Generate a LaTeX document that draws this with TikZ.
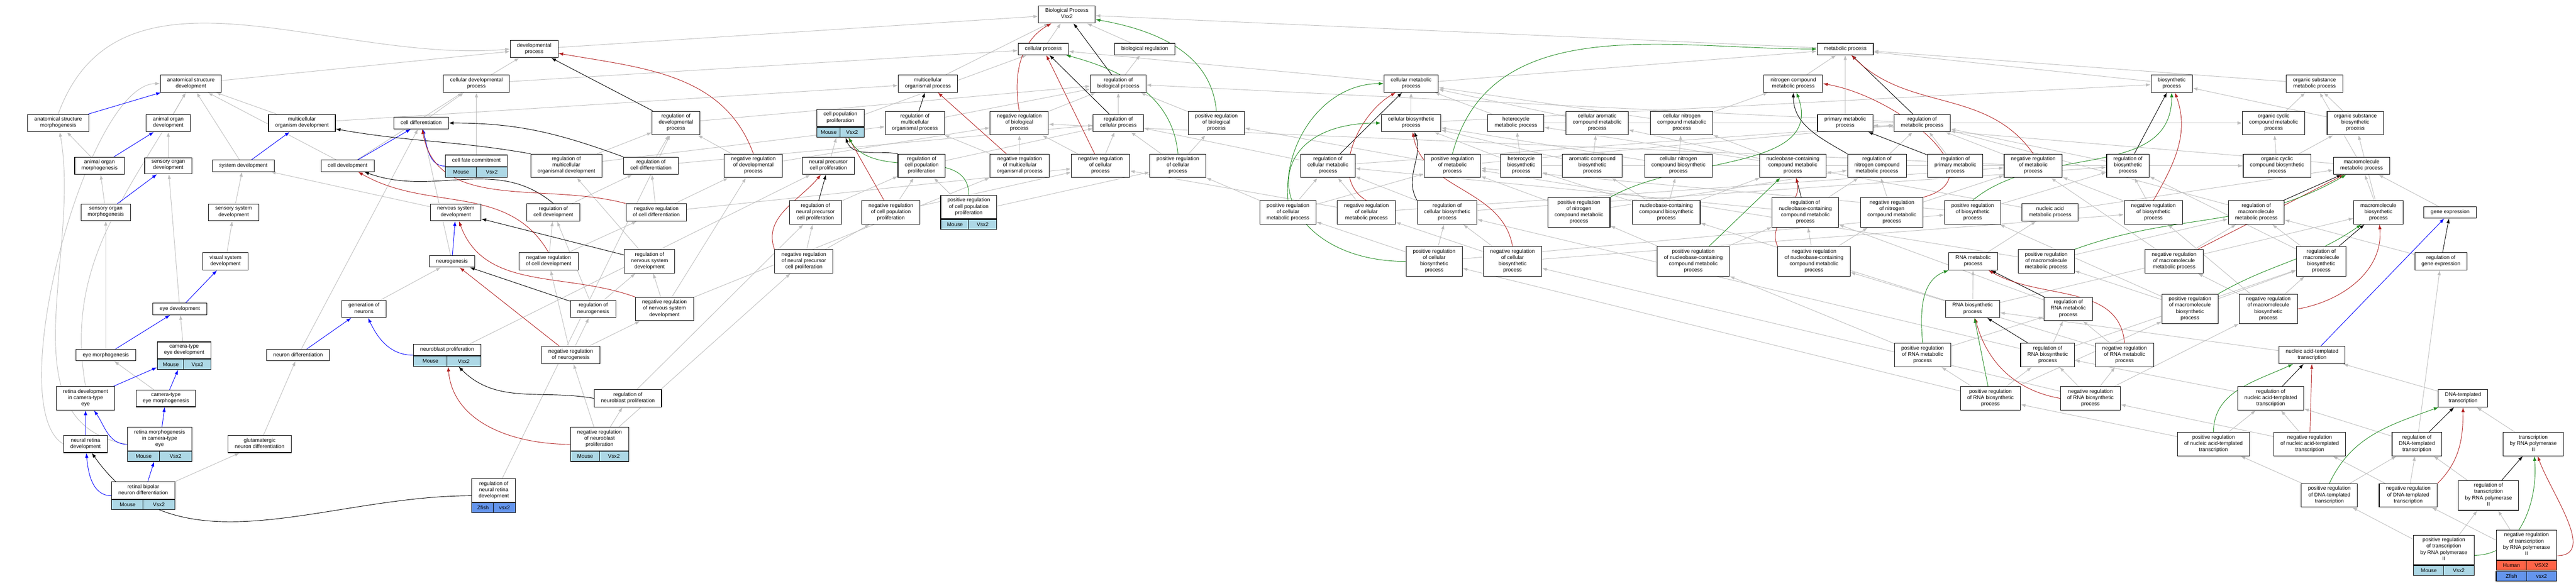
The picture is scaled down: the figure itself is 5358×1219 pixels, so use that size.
\documentclass[tikz,border=0pt]{standalone}
\usepackage{fontspec}
\setmainfont{Liberation Sans}
\usetikzlibrary{arrows.meta,fit,calc}

\definecolor{isagrey}{RGB}{190,190,190}
\definecolor{negred}{RGB}{178,34,34}
\definecolor{posgreen}{RGB}{34,139,34}
\definecolor{mouseblue}{RGB}{173,216,230}
\definecolor{fishblue}{RGB}{100,149,237}
\definecolor{humanred}{RGB}{255,99,71}

\pgfdeclarelayer{bg}
\pgfsetlayers{bg,main}

\tikzset{
  term/.style={draw, fill=white, line width=1.2pt, align=center, inner xsep=14pt, inner ysep=5.5pt,
    font=\fontsize{11}{13}\selectfont, execute at begin node=\strut, execute at end node=\strut},
  gene/.style={draw, line width=1.2pt, inner sep=0pt, minimum height=21pt, font=\fontsize{11}{13}\selectfont},
  link/.style={line width=1pt, -{Latex[length=10pt,width=7pt]}},
  isa/.style={link, isagrey},
  partof/.style={link, blue},
  regs/.style={link, black},
  negregs/.style={link, negred},
  posregs/.style={link, posgreen}
}

% one row of gene cells under a term
\newcommand{\generow}[5]{%
  \path let \p1=($(#2.east)-(#2.west)$) in
    node[gene, fill=#3, minimum width=0.5*\x1, anchor=north west] (#1-l) at (#2.south west) {#4}
    node[gene, fill=#3, minimum width=0.5*\x1, anchor=north east] (#1-r) at (#2.south east) {#5};}

% term with its gene row
\newcommand{\gorec}[6]{%
  \node[term] (#1-t) at (#2) {#3};
  \generow{#1-g}{#1-t}{#4}{#5}{#6}
  \node[fit=(#1-t)(#1-g-l)(#1-g-r), inner sep=0pt] (#1) {};}

\begin{document}
\begin{tikzpicture}[x=1pt,y=1pt]
  \useasboundingbox (0,0) rectangle (5358,-1219);

  % draw top terms
  \node[term] (bp) at (2219,-30) {Biological Process\\Vsx2};
  \node[term] (dp) at (1111,-102) {developmental\\process};
  \node[term] (cp) at (2170,-102) {cellular process};
  \node[term] (breg) at (2381,-102) {biological regulation};
  \node[term] (mp) at (3838,-102) {metabolic process};

  \node[term] (asd) at (397,-174) {anatomical structure\\development};
  \node[term] (cdp) at (991,-174) {cellular developmental\\process};
  \node[term] (mop) at (1930,-174) {multicellular\\organismal process};
  \node[term] (rbp) at (2326,-174) {regulation of\\biological process};
  \node[term] (cmp) at (2935,-174) {cellular metabolic\\process};
  \node[term] (ncmp) at (3730,-174) {nitrogen compound\\metabolic process};
  \node[term] (bsp) at (4517,-174) {biosynthetic\\process};
  \node[term] (osmp) at (4814,-174) {organic substance\\metabolic process};

  \node[term] (asm) at (121,-256) {anatomical structure\\morphogenesis};
  \node[term] (aod) at (350,-256) {animal organ\\development};
  \node[term] (mod) at (628,-256) {multicellular\\organism development};
  \node[term] (cdiff) at (876,-256) {cell differentiation};
  \node[term] (rdp) at (1406,-256) {regulation of\\developmental\\process};
  \gorec{cpp}{1748,-245.5}{cell population\\proliferation}{mouseblue}{Mouse}{Vsx2}
  \node[term] (rmop) at (1903,-256) {regulation of\\multicellular\\organismal process};
  \node[term] (nrbp) at (2120,-256) {negative regulation\\of biological\\process};
  \node[term] (rcp) at (2326,-256) {regulation of\\cellular process};
  \node[term] (prbp) at (2530,-256) {positive regulation\\of biological\\process};
  \node[term] (cbp) at (2935,-256) {cellular biosynthetic\\process};
  \node[term] (hmp) at (3153,-256) {heterocycle\\metabolic process};
  \node[term] (cacmp) at (3322,-256) {cellular aromatic\\compound metabolic\\process};
  \node[term] (cncmp) at (3498,-256) {cellular nitrogen\\compound metabolic\\process};
  \node[term] (pmp) at (3838,-256) {primary metabolic\\process};
  \node[term] (rmp) at (3998,-256) {regulation of\\metabolic process};
  \node[term] (occmp) at (4729,-256) {organic cyclic\\compound metabolic\\process};
  \node[term] (osbp) at (4899,-256) {organic substance\\biosynthetic\\process};

  \node[term] (aom) at (207,-345) {animal organ\\morphogenesis};
  \node[term] (sod) at (350,-345) {sensory organ\\development};
  \node[term] (sd) at (506,-345) {system development};
  \node[term] (cdev) at (723,-345) {cell development};
  \gorec{cfc}{991,-334.5}{cell fate commitment}{mouseblue}{Mouse}{Vsx2}
  \node[term] (rmod) at (1178,-345) {regulation of\\multicellular\\organismal development};
  \node[term] (rcd) at (1354,-345) {regulation of\\cell differentiation};
  \node[term] (nrdp) at (1567,-345) {negative regulation\\of developmental\\process};
  \node[term] (npcp) at (1723,-345) {neural precursor\\cell proliferation};
  \node[term] (rcpp) at (1917,-345) {regulation of\\cell population\\proliferation};
  \node[term] (nrmop) at (2121,-345) {negative regulation\\of multicellular\\organismal process};
  \node[term] (nrcp) at (2289,-345) {negative regulation\\of cellular\\process};
  \node[term] (prcp) at (2450,-345) {positive regulation\\of cellular\\process};
  \node[term] (rcmp) at (2762,-345) {regulation of\\cellular metabolic\\process};
  \node[term] (prmp) at (3021,-345) {positive regulation\\of metabolic\\process};
  \node[term] (hbp) at (3164,-345) {heterocycle\\biosynthetic\\process};
  \node[term] (acbp) at (3312,-345) {aromatic compound\\biosynthetic\\process};
  \node[term] (cncbp) at (3491,-345) {cellular nitrogen\\compound biosynthetic\\process};
  \node[term] (nccmp) at (3729,-345) {nucleobase-containing\\compound metabolic\\process};
  \node[term] (rncmp) at (3904,-345) {regulation of\\nitrogen compound\\metabolic process};
  \node[term] (rpmp) at (4067,-345) {regulation of\\primary metabolic\\process};
  \node[term] (nrmp) at (4229,-345) {negative regulation\\of metabolic\\process};
  \node[term] (rbsp) at (4426,-345) {regulation of\\biosynthetic\\process};
  \node[term] (occbp) at (4736,-345) {organic cyclic\\compound biosynthetic\\process};
  \node[term] (mmp) at (4912,-345) {macromolecule\\metabolic process};

  \node[term] (som) at (220,-442) {sensory organ\\morphogenesis};
  \node[term] (ssd) at (486,-442) {sensory system\\development};
  \node[term] (nsd) at (948,-442) {nervous system\\development};
  \node[term] (rcdev) at (1151,-442) {regulation of\\cell development};
  \node[term] (nrcd) at (1365,-442) {negative regulation\\of cell differentiation};
  \node[term] (rnpcp) at (1696,-442) {regulation of\\neural precursor\\cell proliferation};
  \node[term] (nrcpp) at (1853,-442) {negative regulation\\of cell population\\proliferation};
  \gorec{prcpp}{2015,-431}{positive regulation\\of cell population\\proliferation}{mouseblue}{Mouse}{Vsx2}
  \node[term] (prcmp) at (2679,-442) {positive regulation\\of cellular\\metabolic process};
  \node[term] (nrcmp) at (2842,-442) {negative regulation\\of cellular\\metabolic process};
  \node[term] (rcbp) at (3010,-442) {regulation of\\cellular biosynthetic\\process};
  \node[term] (prncmp) at (3284,-442) {positive regulation\\of nitrogen\\compound metabolic\\process};
  \node[term] (nccbp) at (3466,-442) {nucleobase-containing\\compound biosynthetic\\process};
  \node[term] (rnccmp) at (3755,-442) {regulation of\\nucleobase-containing\\compound metabolic\\process};
  \node[term] (nrncmp) at (3935,-442) {negative regulation\\of nitrogen\\compound metabolic\\process};
  \node[term] (prbsp) at (4103,-442) {positive regulation\\of biosynthetic\\process};
  \node[term] (namp) at (4264,-442) {nucleic acid\\metabolic process};
  \node[term] (nrbsp) at (4479,-442) {negative regulation\\of biosynthetic\\process};
  \node[term] (rmmp) at (4693,-442) {regulation of\\macromolecule\\metabolic process};
  \node[term] (mbp) at (4947,-442) {macromolecule\\biosynthetic\\process};
  \node[term] (ge) at (5096,-442) {gene expression};

  \node[term] (vsd) at (469,-544) {visual system\\development};
  \node[term] (ng) at (940,-544) {neurogenesis};
  \node[term] (nrcdev) at (1141,-544) {negative regulation\\of cell development};
  \node[term] (rnsd) at (1351,-544) {regulation of\\nervous system\\development};
  \node[term] (nrnpcp) at (1672,-544) {negative regulation\\of neural precursor\\cell proliferation};
  \node[term] (prcbp) at (2983,-544) {positive regulation\\of cellular\\biosynthetic\\process};
  \node[term] (nrcbp) at (3146,-544) {negative regulation\\of cellular\\biosynthetic\\process};
  \node[term] (prnccmp) at (3522,-544) {positive regulation\\of nucleobase-containing\\compound metabolic\\process};
  \node[term] (nrnccmp) at (3773,-544) {negative regulation\\of nucleobase-containing\\compound metabolic\\process};
  \node[term] (rnamp) at (4104,-544) {RNA metabolic\\process};
  \node[term] (prmmp) at (4256,-544) {positive regulation\\of macromolecule\\metabolic process};
  \node[term] (nrmmp) at (4522,-544) {negative regulation\\of macromolecule\\metabolic process};
  \node[term] (rmbp) at (4828,-544) {regulation of\\macromolecule\\biosynthetic\\process};
  \node[term] (rge) at (5077,-544) {regulation of\\gene expression};

  \node[term] (ed) at (374,-643) {eye development};
  \node[term] (gon) at (757,-643) {generation of\\neurons};
  \node[term] (rng) at (1234,-643) {regulation of\\neurogenesis};
  \node[term] (nrnsd) at (1382,-643) {negative regulation\\of nervous system\\development};
  \node[term] (rnabp) at (4103,-643) {RNA biosynthetic\\process};
  \node[term] (rrnamp) at (4302,-643) {regulation of\\RNA metabolic\\process};
  \node[term] (prmbp) at (4555,-643) {positive regulation\\of macromolecule\\biosynthetic\\process};
  \node[term] (nrmbp) at (4718,-643) {negative regulation\\of macromolecule\\biosynthetic\\process};

  \node[term] (em) at (220,-739) {eye morphogenesis};
  \gorec{ced}{383,-729}{camera-type\\eye development}{mouseblue}{Mouse}{Vsx2}
  \node[term] (nd) at (620,-739) {neuron differentiation};
  \gorec{nbp}{930,-728}{neuroblast proliferation}{mouseblue}{Mouse}{Vsx2}
  \node[term] (nrng) at (1187,-739) {negative regulation\\of neurogenesis};
  \node[term] (prrnamp) at (3999,-739) {positive regulation\\of RNA metabolic\\process};
  \node[term] (rrnabp) at (4259,-739) {regulation of\\RNA biosynthetic\\process};
  \node[term] (nrrnamp) at (4419,-739) {negative regulation\\of RNA metabolic\\process};
  \node[term] (natt) at (4809,-739) {nucleic acid-templated\\transcription};

  \node[term] (rdce) at (178,-829) {retina development\\in camera-type\\eye};
  \node[term] (cem) at (345,-829) {camera-type\\eye morphogenesis};
  \node[term] (rnbp) at (1306,-829) {regulation of\\neuroblast proliferation};
  \node[term] (prrnabp) at (4140,-829) {positive regulation\\of RNA biosynthetic\\process};
  \node[term] (nrrnabp) at (4348,-829) {negative regulation\\of RNA biosynthetic\\process};
  \node[term] (rnatt) at (4723,-829) {regulation of\\nucleic acid-templated\\transcription};
  \node[term] (dtt) at (5123,-829) {DNA-templated\\transcription};

  \node[term] (nrd) at (178,-924) {neural retina\\development};
  \gorec{rmce}{332,-913.5}{retina morphogenesis\\in camera-type\\eye}{mouseblue}{Mouse}{Vsx2}
  \node[term] (gnd) at (540,-924) {glutamatergic\\neuron differentiation};
  \gorec{nrnbp}{1247,-913.5}{negative regulation\\of neuroblast\\proliferation}{mouseblue}{Mouse}{Vsx2}
  \node[term] (prnatt) at (4604,-924) {positive regulation\\of nucleic acid-templated\\transcription};
  \node[term] (nrnatt) at (4804,-924) {negative regulation\\of nucleic acid-templated\\transcription};
  \node[term] (rdtt) at (5027,-924) {regulation of\\DNA-templated\\transcription};
  \node[term] (tpol) at (5269,-924) {transcription\\by RNA polymerase\\II};

  \gorec{rbnd}{298,-1020.5}{retinal bipolar\\neuron differentiation}{mouseblue}{Mouse}{Vsx2}
  \gorec{rnrd}{1027,-1020.5}{regulation of\\neural retina\\development}{fishblue}{Zfish}{vsx2}
  \node[term] (prdtt) at (4845,-1031) {positive regulation\\of DNA-templated\\transcription};
  \node[term] (nrdtt) at (5009,-1031) {negative regulation\\of DNA-templated\\transcription};
  \node[term] (rtpol) at (5176,-1031) {regulation of\\transcription\\by RNA polymerase\\II};

  \gorec{prtpol}{5083,-1144.5}{positive regulation\\of transcription\\by RNA polymerase\\II}{mouseblue}{Mouse}{Vsx2}
  \node[term] (nrtpol-t) at (5255,-1134) {negative regulation\\of transcription\\by RNA polymerase\\II};
  \generow{nrtpol-h}{nrtpol-t}{humanred}{Human}{VSX2}
  \node[fit=(nrtpol-h-l)(nrtpol-h-r), inner sep=0pt] (nrtpol-hrow) {};
  \generow{nrtpol-z}{nrtpol-hrow}{fishblue}{Zfish}{vsx2}
  \node[fit=(nrtpol-t)(nrtpol-z-l)(nrtpol-z-r), inner sep=0pt] (nrtpol) {};

  \begin{pgfonlayer}{bg}
    \fill[white] (0,0) rectangle (5358,-1219);

    % is_a links
    \foreach \src/\dst in {asd/dp, mod/asd, mod/mop, aod/asd, sd/asd, cdev/asd, cdev/cdp,
        cdiff/cdp, cfc/cdp, cdp/dp, cdp/cp, dp/bp, aom/asm, sod/aod, som/aom, ssd/sd, vsd/ssd,
        ed/sod, em/som, ced/ed, cem/em, nd/cdiff, gon/ng, ng/cdiff,
        nbp/npcp, nsd/sd, gnd/nd, rbnd/gnd}
      \draw[isa] (\src) -- (\dst);
    \draw[isa] (asm.north) to[out=70,in=185] (dp.west);
    \draw[isa] (rdce.north) to[out=100,in=-120] (asd);
    \draw[isa] (nrd.west) to[out=150,in=180,looseness=0.5] (asd.west);
    \draw[isa] (rmce.west) to[out=170,in=-80] (asm);
    \foreach \src/\dst in {rdp/rbp, rmod/rdp, rmod/rmop, rcd/rdp, rcd/rcp, nrdp/rdp, nrdp/nrbp,
        rcdev/rcd, nrcd/rcd, nrcd/nrdp, nrcd/nrcp, nrcdev/rcdev, nrcdev/nrcd, rnsd/rmod, nrnsd/rnsd,
        nrnsd/nrdp, nrnsd/nrmop, rng/rnsd, rng/rcdev, nrng/rng, nrng/nrnsd, nrng/nrcdev, rnbp/rnpcp,
        nrnbp/nrng, nrnbp/rnbp, nrnbp/nrnpcp, rnpcp/rcpp, nrnpcp/rnpcp, nrnpcp/nrcpp, npcp/cpp,
        rnrd/rdp, cpp/cp, rcpp/rcp, nrcpp/rcpp, nrcpp/nrcp, prcpp/rcpp, prcpp/prcp, rmop/rbp,
        nrmop/rmop, nrmop/nrbp, nrbp/rbp, nrcp/nrbp, nrcp/rcp, prcp/rcp, prcp/prbp, prbp/rbp,
        rcp/rbp, rbp/breg, breg/bp, cp/bp, mop/bp, mp/bp, cmp/cp, rmp/rbp, prmp/prbp, rcmp/rcp,
        nrcmp/nrcp, prcmp/prcp, nrmp/nrbp}
      \draw[isa] (\src) -- (\dst);
    \foreach \src/\dst in {cmp/mp, cbp/cmp, cbp/bsp, hmp/cmp, cacmp/cmp, cncmp/cmp, cncmp/ncmp,
        hmp/occmp, cacmp/occmp, hbp/hmp, hbp/cbp, acbp/cacmp, acbp/cbp, cncbp/cncmp, cncbp/cbp,
        rcmp/rmp, prmp/rmp, prcmp/rcmp, prcmp/prmp, nrcmp/rcmp, nrcmp/nrmp, rcbp/rcmp, rcbp/rbsp,
        prcbp/rcbp, prcbp/prcmp, prcbp/prbsp, nrcbp/rcbp, nrcbp/nrcmp, nrcbp/nrbsp, prncmp/prmp,
        prncmp/rncmp, nccbp/nccmp, nccbp/cncbp, nccbp/acbp, nccbp/hbp, rnccmp/rncmp, rnccmp/rcmp,
        nrncmp/rncmp, nrncmp/nrmp, rncmp/rmp, rpmp/rmp, nrmp/rmp, pmp/mp, ncmp/mp, nccmp/cncmp,
        nccmp/hmp, nccmp/cacmp, namp/nccmp, namp/mmp, rnamp/namp, prbsp/rbsp, prbsp/prmp,
        nrbsp/rbsp, nrbsp/nrmp, rbsp/rmp, osmp/mp, bsp/mp, occmp/osmp, osbp/osmp, osbp/bsp,
        occbp/occmp, occbp/osbp, acbp/occbp, hbp/occbp, mmp/osmp, mmp/pmp, mbp/mmp, mbp/osbp,
        ge/mmp, rmmp/rmp, rmbp/rmmp, rmbp/rbsp, prmmp/rmmp, prmmp/prmp, nrmmp/rmmp, nrmmp/nrmp,
        prmbp/rmbp, prmbp/prmmp, prmbp/prbsp, nrmbp/rmbp, nrmbp/nrmmp, nrmbp/nrbsp, rge/rmmp,
        prnccmp/rnccmp, prnccmp/prncmp, nrnccmp/rnccmp, nrnccmp/nrncmp}
      \draw[isa] (\src) -- (\dst);
    \foreach \src/\dst in {rnabp/rnamp, rnabp/nccbp, rnabp/mbp, rrnamp/rnccmp, prrnamp/rrnamp,
        prrnamp/prnccmp, rrnabp/rrnamp, rrnabp/rmbp, rrnabp/rcbp, nrrnamp/rrnamp,
        nrrnamp/nrnccmp, prrnabp/prrnamp, prrnabp/rrnabp, prrnabp/prcbp, prrnabp/prmbp,
        nrrnabp/rrnabp, nrrnabp/nrrnamp, nrrnabp/nrcbp, nrrnabp/nrmbp, natt/rnabp, rnatt/rrnabp,
        prnatt/rnatt, prnatt/prrnabp, nrnatt/rnatt, nrnatt/nrrnabp, dtt/natt, rdtt/rnatt, rdtt/rge,
        tpol/dtt, prdtt/prnatt, prdtt/rdtt, nrdtt/nrnatt, nrdtt/rdtt, rtpol/rdtt, prtpol/prdtt,
        prtpol/rtpol, nrtpol/nrdtt, nrtpol/rtpol}
      \draw[isa] (\src) -- (\dst);

    % part_of links
    \foreach \src/\dst in {asm/asd, aom/aod, som/sod, sd/mod, cdev/cdiff, ed/vsd, em/ed, rdce/ced,
        rmce/cem, cem/ced, nrd/rdce, rbnd/rmce, nd/gon, ng/nsd, natt/ge}
      \draw[partof] (\src) -- (\dst);
    \draw[partof] (cfc.west) to[out=180,in=-75] (cdiff);
    \draw[partof] (nbp.west) to[out=180,in=-65] (gon);
    \draw[partof] (rbnd.west) to[out=180,in=-85] (nrd);
    \draw[partof] (rmce.west) to[out=180,in=-55] (rdce);

    % regulates links
    \foreach \src/\dst in {rdp/dp, rnsd/nsd, rng/ng, rnpcp/npcp, rmop/mop, rbp/bp, rcp/cp, rcmp/cmp,
        rmp/mp, rpmp/pmp, rnccmp/nccmp, rbsp/bsp, rmmp/mmp, rmbp/mbp, rge/ge, rrnamp/rnamp,
        rrnabp/rnabp, rnatt/natt, rdtt/dtt, rtpol/tpol}
      \draw[regs] (\src) -- (\dst);
    \draw[regs] (rcd.north west) to[out=160,in=0] (cdiff.east);
    \draw[regs] (rmod.north west) to[out=170,in=-10] (mod);
    \draw[regs] (rcdev.north) to[out=140,in=-20] (cdev);
    \draw[regs] (rnbp.west) to[out=170,in=-45] (nbp);
    \draw[regs] (rcpp.north west) to[out=170,in=-70] (cpp);
    \draw[regs] (rnrd.west) to[out=180,in=-55] (nrd);
    \draw[regs] (rcbp.north west) to[out=120,in=-70] (cbp);
    \draw[regs] (rncmp.north west) to[out=150,in=-90] (ncmp);

    % negatively regulates links
    \foreach \src/\dst in {nrng/ng, nrcpp/cpp, nrmop/mop, nrcp/cp, nrmmp/mmp, nrnatt/natt}
      \draw[negregs] (\src) -- (\dst);
    \draw[negregs] (nrdp.north) to[out=110,in=-10] (dp);
    \draw[negregs] (nrcd.north west) to[out=165,in=-80] (cdiff);
    \draw[negregs] (nrcdev.north) to[out=120,in=-30] (cdev);
    \draw[negregs] (nrnsd.north west) to[out=160,in=-70] (nsd);
    \draw[negregs] (nrnbp.west) to[out=180,in=-85] (nbp);
    \draw[negregs] (nrnpcp.north west) to[out=110,in=-130] (npcp);
    \draw[negregs] (nrbp.north) to[out=100,in=-150] (bp);
    \draw[negregs] (nrcmp.north) to[out=150,in=-150] (cmp);
    \draw[negregs] (nrcbp.north) to[out=100,in=-80] (cbp);
    \draw[negregs] (nrmp.north) to[out=125,in=-45] (mp);
    \draw[negregs] (nrncmp.north east) to[out=15,in=-10,looseness=1.3] (ncmp.east);
    \draw[negregs] (nrnccmp.north west) to[out=115,in=-75] (nccmp);
    \draw[negregs] (nrbsp.north) to[out=60,in=-70] (bsp);
    \draw[negregs] (nrmbp.east) to[out=10,in=-85] (mbp);
    \draw[negregs] (nrrnamp.north) to[out=95,in=-30] (rnamp);
    \draw[negregs] (nrrnabp.west) to[out=170,in=-75] (rnabp);
    \draw[negregs] (nrdtt.north east) to[out=45,in=-90] (dtt);
    \draw[negregs] (nrtpol.east) to[out=0,in=-70] (tpol);

    % positively regulates links
    \foreach \src/\dst in {prnccmp/nccmp, prrnabp/rnabp}
      \draw[posregs] (\src) -- (\dst);
    \draw[posregs] (prcpp.north) to[out=90,in=-60] (cpp);
    \draw[posregs] (prbp.north) to[out=95,in=-10] (bp);
    \draw[posregs] (prcp.north) to[out=95,in=-15] (cp);
    \draw[posregs] (prcmp.north) to[out=95,in=180] (cmp.west);
    \draw[posregs] (prcbp.west) to[out=180,in=180,looseness=2.5] (cbp.west);
    \draw[posregs] (prmp.north) to[out=75,in=180] (mp.west);
    \draw[posregs] (prncmp.north east) to[out=30,in=-70] (ncmp);
    \draw[posregs] (prbsp.north) to[out=40,in=-90] (bsp);
    \draw[posregs] (prmmp.north east) to[out=20,in=-150] (mmp);
    \draw[posregs] (prmbp.north east) to[out=30,in=-145] (mbp);
    \draw[posregs] (prrnamp.north) to[out=95,in=-160] (rnamp);
    \draw[posregs] (prnatt.north) to[out=90,in=-155] (natt);
    \draw[posregs] (prdtt.north) to[out=65,in=-160] (dtt);
    \draw[posregs] (prtpol.east) to[out=0,in=-85] (tpol);
  \end{pgfonlayer}
\end{tikzpicture}
\end{document}
